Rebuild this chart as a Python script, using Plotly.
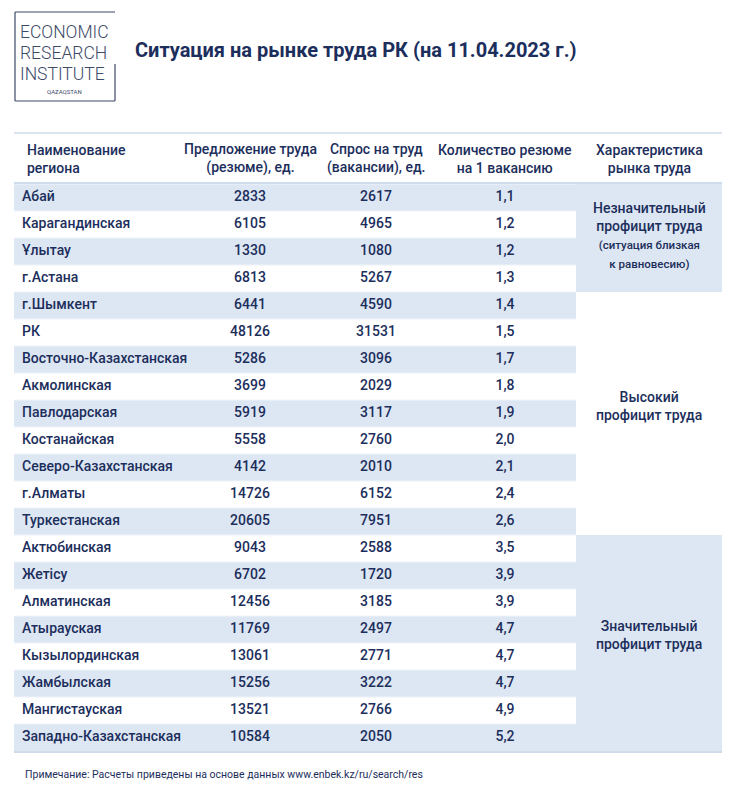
import plotly.graph_objects as go

# ---------------- data ----------------
regions = ["Абай", "Карагандинская", "Ұлытау", "г.Астана", "г.Шымкент", "РК",
           "Восточно-Казахстанская", "Акмолинская", "Павлодарская", "Костанайская",
           "Северо-Казахстанская", "г.Алматы", "Туркестанская", "Актюбинская", "Жетісу",
           "Алматинская", "Атырауская", "Кызылординская", "Жамбылская", "Мангистауская",
           "Западно-Казахстанская"]
supply = [2833, 6105, 1330, 6813, 6441, 48126, 5286, 3699, 5919, 5558, 4142, 14726,
          20605, 9043, 6702, 12456, 11769, 13061, 15256, 13521, 10584]
demand = [2617, 4965, 1080, 5267, 4590, 31531, 3096, 2029, 3117, 2760, 2010, 6152,
          7951, 2588, 1720, 3185, 2497, 2771, 3222, 2766, 2050]
ratio = [1.1, 1.2, 1.2, 1.3, 1.4, 1.5, 1.7, 1.8, 1.9, 2.0, 2.1, 2.4, 2.6, 3.5, 3.9,
         3.9, 4.7, 4.7, 4.7, 4.9, 5.2]
headers = ["Наименование<br>региона", "Предложение труда<br>(резюме), ед.",
           "Спрос на труд<br>(вакансии), ед.", "Количество резюме<br>на 1 вакансию",
           "Характеристика<br>рынка труда"]
group_sizes = [4, 9, 8]
group_labels = ["Незначительный<br>профицит труда<br><span style='font-size:11.5px'>(ситуация близкая<br>к равновесию)</span>",
                "Высокий<br>профицит труда",
                "Значительный<br>профицит труда"]
group_filled = [True, False, True]
title = "Ситуация на рынке труда РК (на 11.04.2023 г.)"
note = "Примечание: Расчеты приведены на основе данных www.enbek.kz/ru/search/res"
logo_lines = ["ECONOMIC", "RESEARCH", "INSTITUTE"]

# ---------------- style ----------------
W, H = 734, 790
OFF = 8  # page body margin
NAVY = "#1c2e5c"
BLUE = "#dde7f3"
LINE = "#cfdcec"
FONT = "Roboto, sans-serif"
WEIGHT = 500
X_LEFT, X_SPLIT, X_RIGHT = 14, 576, 722
HEAD_TOP, ROW_TOP, ROW_H = 133, 184, 27
COL_X = [22, 250, 376, 505, 649]
GROUP_DY = [-3, -8, -8]

n = len(regions)
row_center = [ROW_TOP + (i + 0.5) * ROW_H for i in range(n)]

fig = go.Figure()
shapes = []
for i in range(n):
    if i % 2 == 0:
        shapes.append(dict(type="rect", xref="x", yref="y", x0=X_LEFT, x1=X_SPLIT,
                           y0=ROW_TOP + i * ROW_H, y1=ROW_TOP + (i + 1) * ROW_H,
                           fillcolor=BLUE, line=dict(width=0), layer="below"))
    shapes.append(dict(type="line", xref="x", yref="y", x0=X_LEFT, x1=X_SPLIT,
                       y0=ROW_TOP + i * ROW_H, y1=ROW_TOP + i * ROW_H,
                       line=dict(color="#eef3f9", width=1), layer="below"))
start = 0
group_center = []
for size, filled in zip(group_sizes, group_filled):
    y0 = ROW_TOP + start * ROW_H
    y1 = ROW_TOP + (start + size) * ROW_H
    if filled:
        shapes.append(dict(type="rect", xref="x", yref="y", x0=X_SPLIT, x1=X_RIGHT,
                           y0=y0, y1=y1, fillcolor=BLUE, line=dict(width=0), layer="below"))
    group_center.append((y0 + y1) / 2)
    start += size
for yy, wdt in [(HEAD_TOP, 1.5), (ROW_TOP - 1, 2), (ROW_TOP + n * ROW_H + 1, 2)]:
    shapes.append(dict(type="line", xref="x", yref="y", x0=X_LEFT, x1=X_RIGHT,
                       y0=yy, y1=yy, line=dict(color=LINE, width=wdt)))
LOGO = "#3d4a68"
for (x0, y0, x1, y1) in [(15, 12, 115, 12), (15, 12, 15, 101), (15, 101, 115, 101), (115, 64, 115, 101)]:
    shapes.append(dict(type="line", xref="x", yref="y", x0=x0, x1=x1, y0=y0, y1=y1,
                       line=dict(color=LOGO, width=1.2)))

cell_font = dict(family=FONT, size=14, color=NAVY, weight=WEIGHT)
fig.add_trace(go.Scatter(x=[COL_X[0]] * n, y=row_center, text=regions, mode="text",
                         textposition="middle right", textfont=cell_font, hoverinfo="skip"))
fig.add_trace(go.Scatter(x=[COL_X[1]] * n, y=row_center, text=[str(v) for v in supply],
                         mode="text", textposition="middle center", textfont=cell_font, hoverinfo="skip"))
fig.add_trace(go.Scatter(x=[COL_X[2]] * n, y=row_center, text=[str(v) for v in demand],
                         mode="text", textposition="middle center", textfont=cell_font, hoverinfo="skip"))
fig.add_trace(go.Scatter(x=[COL_X[3]] * n, y=row_center,
                         text=[f"{v:.1f}".replace(".", ",") for v in ratio],
                         mode="text", textposition="middle center", textfont=cell_font, hoverinfo="skip"))

annotations = []
for j, h in enumerate(headers):
    annotations.append(dict(x=COL_X[j] + 3 if j == 0 else COL_X[j], y=(HEAD_TOP + ROW_TOP) / 2,
                            xref="x", yref="y", text=h, showarrow=False,
                            xanchor="left" if j == 0 else "center",
                            yanchor="middle", align="left" if j == 0 else "center",
                            font=dict(family=FONT, size=14, color=NAVY, weight=WEIGHT)))
for lbl, yc, dy in zip(group_labels, group_center, GROUP_DY):
    annotations.append(dict(x=COL_X[4], y=yc + dy, xref="x", yref="y", text=lbl,
                            showarrow=False, xanchor="center", yanchor="middle", align="center",
                            font=dict(family=FONT, size=14, color=NAVY, weight=WEIGHT)))
annotations.append(dict(x=133, y=50, xref="x", yref="y", text=title, showarrow=False,
                        xanchor="left", yanchor="middle",
                        font=dict(family=FONT, size=20, color=NAVY, weight="bold")))
annotations.append(dict(x=23, y=774, xref="x", yref="y", text=note, showarrow=False,
                        xanchor="left", yanchor="middle",
                        font=dict(family=FONT, size=10.5, color=NAVY)))
for k, txt in enumerate(logo_lines):
    annotations.append(dict(x=18, y=32 + 21 * k, xref="x", yref="y", text=txt, showarrow=False,
                            xanchor="left", yanchor="middle",
                            font=dict(family="Roboto", size=17.5, color=LOGO, weight=300)))
annotations.append(dict(x=64, y=91, xref="x", yref="y", text="QAZAQSTAN", showarrow=False,
                        xanchor="center", yanchor="middle",
                        font=dict(family="Roboto", size=6, color=LOGO)))

fig.update_layout(width=W - OFF, height=H - OFF, margin=dict(l=0, r=0, t=0, b=0),
                  paper_bgcolor="white", plot_bgcolor="white", showlegend=False,
                  shapes=shapes, annotations=annotations,
                  xaxis=dict(range=[OFF, W], visible=False, fixedrange=True),
                  yaxis=dict(range=[H, OFF], visible=False, fixedrange=True))
fig.write_html("out.html", config={"displayModeBar": False})
